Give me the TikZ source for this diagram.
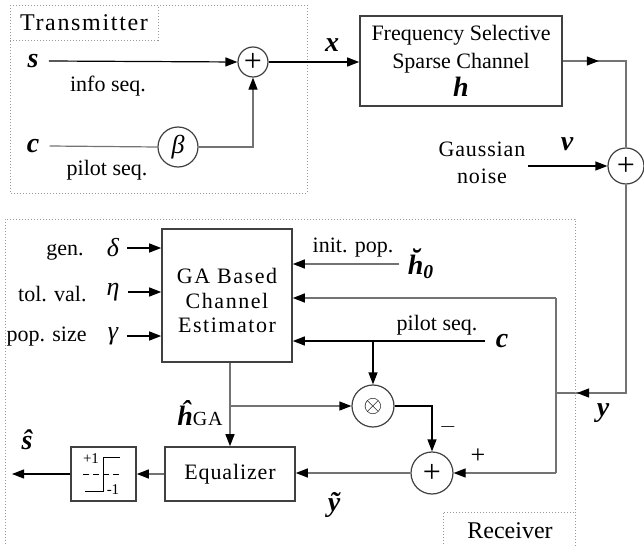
\documentclass[tikz,border=0pt]{standalone}
\usepackage{fontspec}
\setmainfont{Liberation Serif}
\newfontfamily\spfont[LetterSpace=4]{Liberation Serif}
\newfontfamily\wdfont[LetterSpace=7]{Liberation Serif}
\usetikzlibrary{positioning,arrows.meta,calc}
\tikzset{
  blk/.style ={rectangle, draw=black!75, line width=0.8pt, align=center, inner sep=1pt,
               font=\fontsize{11}{14}\selectfont},
  sumc/.style={circle, draw=black!75, line width=0.6pt, inner sep=0pt, minimum size=15pt,
               font=\fontsize{16}{16}\selectfont},
  arr/.style ={-{Triangle[length=6pt,width=4.5pt,color=black]}, line width=0.6pt},
  gry/.style ={draw=black!55, line width=0.6pt},
  frm/.style ={draw=black!40, densely dotted, line width=0.5pt},
  lbl/.style ={font=\fontsize{11}{13.5}\selectfont, inner sep=1pt},
  sym/.style ={font=\fontsize{14}{16}\selectfont\bfseries\itshape, inner sep=1pt},
  grk/.style ={font=\fontsize{13}{15}\selectfont\itshape, inner sep=1pt},
}

\begin{document}
\begin{tikzpicture}[x=0.5pt, y=-0.5pt]
  \useasboundingbox (0,0) rectangle (644,546);
  % transmitter
  \draw[frm] (10,5) rectangle (307,193);
  \draw[frm] (10,40) -| (158,5);
  \node[lbl, font=\wdfont\fontsize{12}{14}\selectfont] (tx) at (84,23) {Transmitter};
  \node[sumc] (sumtx) at (253,62) {+};
  \node[sym] (s) at (33,61) {s};
  \node[lbl] (info) at (108,86) {info seq.};
  \node[sym] (c) at (33,146) {c};
  \node[sumc, minimum size=20pt, font=\fontsize{13}{13}\selectfont\itshape] (beta) at (178,147) {β};
  \node[lbl] (pilot) at (107,170) {pilot seq.};
  \draw[arr] ([xshift=4pt]s.east) -- (sumtx.west);
  \draw[gry] ([xshift=4pt]c.east) -- (beta.west);
  \draw[gry, arr] (beta.east) -| (sumtx.south);

  % channel and noise
  \node[sym] (x) at (332,45) {x};
  \node[blk, minimum width=101pt, minimum height=45pt] (chan) at (461,61)
    {Frequency Selective\\Sparse Channel\\{\fontsize{14}{14}\selectfont\bfseries\itshape h}};
  \draw[arr] (sumtx.east) -- (sumtx.east -| chan.west);
  \node[sumc, minimum size=18pt] (sumn) at (626,166) {+};
  \node[lbl, align=center, font=\spfont\fontsize{11}{13.5}\selectfont] (noise) at (482,163) {Gaussian\\noise};
  \node[sym] (v) at (567,144) {v};
  \coordinate (nz) at (noise.east |- sumn.west);
  \draw[arr] (nz) -- (sumn.west);
  \draw[gry] (chan.east) -| (sumn.north);
  \draw[gry, arr] (chan.east) -- ++(36,0);

  % received signal
  \coordinate (yc) at (626,393);
  \coordinate (ytip) at (577,393);
  \coordinate (ybus) at (556,393);
  \coordinate (ybt) at (556,298);
  \coordinate (ybb) at (556,473);
  \draw[gry] (sumn.south) |- (ybus);
  \draw[gry, arr] (yc) -- (ytip);
  \draw[gry] (ybt) -- (ybb);
  \node[sym] (y) at (603,413) {y};

  % receiver
  \draw[frm] (5,550) -- (5,219) -- (575,219) -- (575,550);
  \draw[frm] (443,550) |- (575,512);
  \node[lbl, font=\fontsize{12}{14}\selectfont] (rx) at (510,531) {Receiver};
  \node[blk, minimum width=65pt, minimum height=66.5pt, font=\wdfont\fontsize{11}{12.25}\selectfont]
    (ga) at (227,295.5) {\rule{0pt}{13pt}GA Based\\Channel\\Estimator};

  \node[lbl, anchor=east] (gen) at (86,252) {gen.};
  \node[lbl, anchor=east] (tol) at (89,294) {tol. val.};
  \node[lbl, anchor=east] (pops) at (89,337) {pop. size};
  \node[grk] (del) at (113,248) {δ};
  \node[grk] (eta) at (113,292) {η};
  \node[grk] (gam) at (113,336) {γ};
  \draw[arr] ([xshift=3pt]del.east) -- (del.east -| ga.west);
  \draw[arr] ([xshift=3pt]eta.east) -- (eta.east -| ga.west);
  \draw[arr] ([xshift=3pt]gam.east) -- (gam.east -| ga.west);

  \node[lbl] (init) at (353,248) {init. pop.};
  \node[sym] (h0) at (421,264) {\u{h}\textsubscript{0}};
  \draw[gry, arr] ([xshift=-3pt]h0.west) -- (h0.west -| ga.east);
  \draw[gry, arr] (ybt) -- (ybt -| ga.east);
  \node[lbl] (pil2) at (437,325) {pilot seq.};
  \node[sym] (c2) at (502,341) {c};
  \draw[arr] ([xshift=-4pt]c2.west) -- (c2.west -| ga.east);

  \node[sumc, minimum size=21pt, font=\fontsize{12}{12}\selectfont] (otimes) at (373,406) {$\otimes$};
  \coordinate (pb) at (otimes.north |- c2.west);
  \draw[arr] (pb) -- (otimes.north);

  \node[blk, minimum width=65pt, minimum height=27pt, font=\spfont\fontsize{11}{13}\selectfont]
    (eq) at (230,474) {Equalizer};
  \node[sumc, minimum size=21pt] (sumrx) at (432,473) {+};
  \draw[gry, arr] (eq.north |- ga.south) -- (eq.north);
  \coordinate (hb) at (eq.north |- otimes.west);
  \draw[gry, arr] (hb) -- (otimes.west);
  \node[sym] (hga) at (200,413) {\^{h}{\spfont\mdseries\upshape\fontsize{10}{10}\selectfont GA}};
  \draw[arr] (otimes.east) -| (sumrx.north);
  \node[lbl] (minus) at (448,427) {$-$};
  \draw[gry, arr] (ybb) -- (sumrx.east);
  \node[lbl, font=\fontsize{13}{13}\selectfont] (plus) at (478,456) {+};
  \draw[gry, arr] (sumrx.west) -- (sumrx.west -| eq.east);
  \node[sym] (yt) at (334,505) {\~{y}};

  % hard limiter
  \node[blk, minimum width=32.5pt, minimum height=27pt] (lim) at (103.5,474) {};
  \draw[gry, arr] (eq.west) -- (lim.east);
  \coordinate (shat) at (12,474);
  \draw[arr] (lim.west) -- (shat);
  \node[sym] (sh) at (27,440) {\^{s}};
  \draw[line width=0.4pt] (120,457) -- (103,457) -- (103,491) -- (85,491);
  \draw[line width=0.4pt, densely dashed] (83,474) -- (120,474);
  \node[font=\fontsize{7.5}{9}\selectfont, inner sep=0pt] (p1) at (91,459) {+1};
  \node[font=\fontsize{7.5}{9}\selectfont, inner sep=0pt] (m1) at (113,490) {-1};
\end{tikzpicture}
\end{document}
